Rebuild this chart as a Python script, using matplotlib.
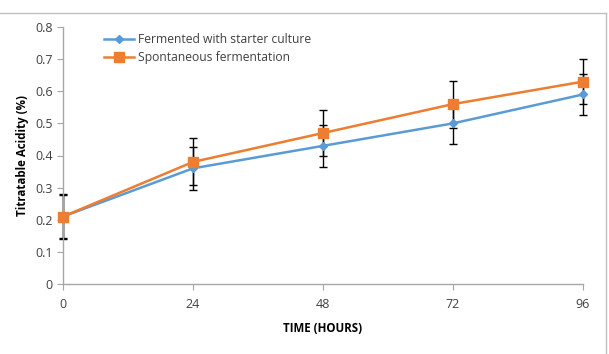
import matplotlib
matplotlib.use("Agg")
import matplotlib.pyplot as plt
from matplotlib.lines import Line2D

hours = [0, 24, 48, 72, 96]
starter = [0.21, 0.36, 0.43, 0.50, 0.59]
starter_err = [0.068, 0.066, 0.065, 0.065, 0.065]
spont = [0.21, 0.38, 0.47, 0.56, 0.63]
spont_err = [0.07, 0.073, 0.073, 0.073, 0.07]
xticks = [0, 24, 48, 72, 96]
yticks = [0, 0.1, 0.2, 0.3, 0.4, 0.5, 0.6, 0.7, 0.8]

plt.rcParams['font.family'] = ['Open Sans', 'DejaVu Sans']

fig = plt.figure(figsize=(6.09, 3.54), dpi=100)
ax = fig.add_axes([63/609, 1-284/354, (583-63)/609, (284-27)/354])

blue = '#5B9BD5'
orange = '#ED7D31'

for vals, errs in [(starter, starter_err), (spont, spont_err)]:
    eb = ax.errorbar(hours, vals, yerr=errs, fmt='none', ecolor='black',
                     elinewidth=1, capsize=2.8, capthick=1, zorder=2)
    for art in eb.lines[1] + eb.lines[2]:
        art.set_clip_on(False)
ax.plot(hours, starter, color=blue, lw=1.8, marker='D', ms=4.5,
        label='Fermented with starter culture', zorder=3, clip_on=False)
ax.plot(hours, spont, color=orange, lw=1.8, marker='s', ms=6.5,
        label='Spontaneous fermentation', zorder=4, clip_on=False)

ax.set_xlim(0, 96)
ax.set_ylim(0, 0.8)
ax.set_xticks(xticks)
ax.set_xticklabels([str(v) for v in xticks])
ax.set_yticks(yticks)
ax.set_yticklabels(['0'] + [f'{v:.1f}' for v in yticks[1:]])
for s in ['top', 'right']:
    ax.spines[s].set_visible(False)
for s in ['left', 'bottom']:
    ax.spines[s].set_color('#a6a6a6')
    ax.spines[s].set_linewidth(1)
ax.tick_params(axis='both', colors='#a6a6a6', labelcolor='#404040',
               labelsize=9, length=4, direction='out')
ax.tick_params(axis='x', pad=6)

ax.set_xlabel('TIME (HOURS)', fontsize=8.3, fontweight='bold', color='black', labelpad=8)
ax.set_ylabel('Titratable Acidity (%)', fontsize=8.3, fontweight='bold', color='black', labelpad=4)

leg = ax.legend(loc='upper left', bbox_to_anchor=(0.065, 1.005), frameon=False,
                fontsize=8.7, handlelength=2.5, labelspacing=0.42, handletextpad=0.3,
                borderaxespad=0.2)
for t in leg.get_texts():
    t.set_color('#404040')

fig.add_artist(Line2D([0, 606/609], [1-13/354, 1-13/354], transform=fig.transFigure,
                      color='#bfbfbf', lw=1))
fig.add_artist(Line2D([606/609, 606/609], [0, 1-13/354], transform=fig.transFigure,
                      color='#bfbfbf', lw=1))

fig.savefig('out.png', dpi=100)
